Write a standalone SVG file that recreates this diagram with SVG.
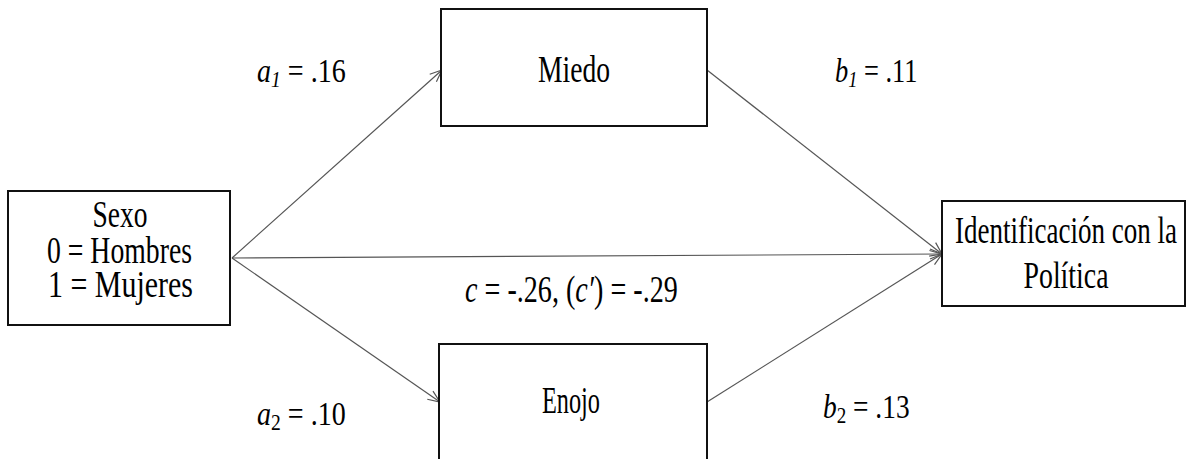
<svg xmlns="http://www.w3.org/2000/svg" width="1188" height="459" viewBox="0 0 1188 459">
<defs>
<style>
.box{fill:#fff;stroke:#111;stroke-width:2}
.t{font-family:"Liberation Serif","Times New Roman",serif;font-size:37px;fill:#000}
.lb{font-family:"Liberation Serif","Times New Roman",serif;font-size:33px;fill:#000}
.it{font-style:italic}
.con{stroke:#555;stroke-width:1.2;fill:none}
</style>
<marker id="arr" markerUnits="userSpaceOnUse" markerWidth="14" markerHeight="12" refX="13" refY="6" orient="auto">
<path d="M1,1 L13,6 L1,11" fill="none" stroke="#555" stroke-width="1.2"/>
</marker>
</defs>
<rect width="1188" height="459" fill="#fff"/>
<g id="connectors">
<line class="con" x1="232" y1="258" x2="442" y2="70" marker-end="url(#arr)"/>
<line class="con" x1="232" y1="258" x2="440" y2="402" marker-end="url(#arr)"/>
<line class="con" x1="232" y1="258" x2="942" y2="254" marker-end="url(#arr)"/>
<line class="con" x1="707" y1="70" x2="942" y2="254" marker-end="url(#arr)"/>
<line class="con" x1="707" y1="402" x2="942" y2="254" marker-end="url(#arr)"/>
</g>
<g id="sexo">
<rect class="box" x="8" y="191" width="222" height="134"/>
<text class="t" x="120" y="227" text-anchor="middle" textLength="55" lengthAdjust="spacingAndGlyphs">Sexo</text>
<text class="t" x="119.5" y="263" text-anchor="middle" textLength="145" lengthAdjust="spacingAndGlyphs">0 = Hombres</text>
<text class="t" x="120.5" y="297" text-anchor="middle" textLength="145" lengthAdjust="spacingAndGlyphs">1 = Mujeres</text>
</g>
<g id="miedo">
<rect class="box" x="441" y="9" width="266" height="117"/>
<text class="t" x="574" y="82" text-anchor="middle" textLength="72" lengthAdjust="spacingAndGlyphs">Miedo</text>
</g>
<g id="enojo">
<rect class="box" x="439" y="344" width="268" height="130"/>
<text class="t" x="571" y="413" text-anchor="middle" textLength="58" lengthAdjust="spacingAndGlyphs">Enojo</text>
</g>
<g id="identificacion">
<rect class="box" x="942" y="201" width="243" height="105"/>
<text class="t" x="1066" y="243" text-anchor="middle" textLength="222" lengthAdjust="spacingAndGlyphs">Identificación con la</text>
<text class="t" x="1066" y="288" text-anchor="middle" textLength="85" lengthAdjust="spacingAndGlyphs">Política</text>
</g>
<g id="labels">
<text class="lb" transform="translate(257,82) scale(0.85,1)"><tspan class="it">a</tspan><tspan class="it" font-size="23" dy="5">1</tspan><tspan dy="-5"> = .16</tspan></text>
<text class="lb" transform="translate(257,425) scale(0.85,1)"><tspan class="it">a</tspan><tspan font-size="23" dy="5">2</tspan><tspan dy="-5"> = .10</tspan></text>
<text class="lb" transform="translate(835,82) scale(0.8,1)"><tspan class="it">b</tspan><tspan class="it" font-size="23" dy="5">1</tspan><tspan dy="-5"> = .11</tspan></text>
<text class="lb" transform="translate(823,418) scale(0.83,1)"><tspan class="it">b</tspan><tspan font-size="23" dy="5">2</tspan><tspan dy="-5"> = .13</tspan></text>
<text class="t" transform="translate(465,302) scale(0.76,1)"><tspan class="it">c</tspan> = -.26, (<tspan class="it">c′</tspan>) = -.29</text>
</g>
</svg>
